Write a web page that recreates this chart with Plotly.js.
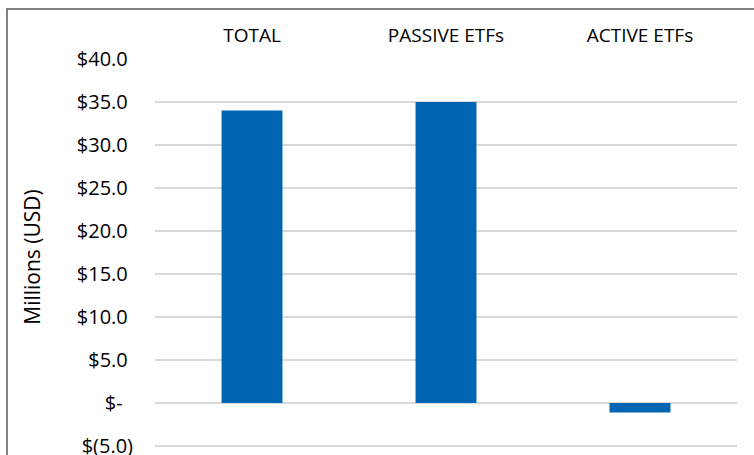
<!DOCTYPE html>
<html>
<head>
<meta charset="utf-8">
<script src="https://cdn.plot.ly/plotly-3.0.1.min.js"></script>
<style>html,body{margin:0;padding:0;background:#fff;overflow:hidden}</style>
</head>
<body>
<div id="chart" style="width:754px;height:455px"></div>
<script>
const categories = ["TOTAL", "PASSIVE ETFs", "ACTIVE ETFs"];
const flows = [34.0, 35.0, -1.1];
const tickValues = [-5, 0, 5, 10, 15, 20, 25, 30, 35, 40];
const tickLabels = ["$(5.0)", "$-\u00a0\u00a0", "$5.0\u00a0", "$10.0\u00a0", "$15.0\u00a0", "$20.0\u00a0", "$25.0\u00a0", "$30.0\u00a0", "$35.0\u00a0", "$40.0\u00a0"];

const font = "Open Sans, Noto Sans, sans-serif";
const W = 754, H = 455, L = 155, R = 17, T = 59, B = 0;
const pw = W - L - R, ph = H - T - B;

Plotly.newPlot("chart", [{
  type: "bar",
  x: categories,
  y: flows,
  width: 0.314,
  marker: {color: "#0066B3"},
  hoverinfo: "x+y"
}], {
  width: W, height: H,
  margin: {l: L, r: R, t: T, b: B, pad: 0},
  paper_bgcolor: "#fff", plot_bgcolor: "#fff",
  showlegend: false,
  font: {family: font, color: "#000"},
  xaxis: {
    side: "top",
    showgrid: false, zeroline: false, showline: false,
    ticks: "", ticklabelstandoff: 12,
    tickfont: {size: 19, family: font, color: "#000"}
  },
  yaxis: {
    range: [-6.05, 40],
    tickvals: tickValues, ticktext: tickLabels,
    showgrid: true, gridcolor: "#D9D9D9", gridwidth: 1.3,
    zeroline: false, showline: false, ticks: "",
    ticklabelstandoff: 21, ticklabeloverflow: "allow",
    tickfont: {size: 20, family: font, color: "#000"},
    title: {text: "Millions (USD)", font: {size: 21, family: font, color: "#000"}, standoff: 30}
  },
  shapes: [{
    type: "rect", xref: "paper", yref: "paper",
    x0: (7 - L) / pw, x1: 1.5, y0: -0.5, y1: (H - B - 9) / ph,
    line: {color: "#595959", width: 1.5}, fillcolor: "rgba(0,0,0,0)"
  }]
}, {staticPlot: true});
</script>
</body>
</html>
